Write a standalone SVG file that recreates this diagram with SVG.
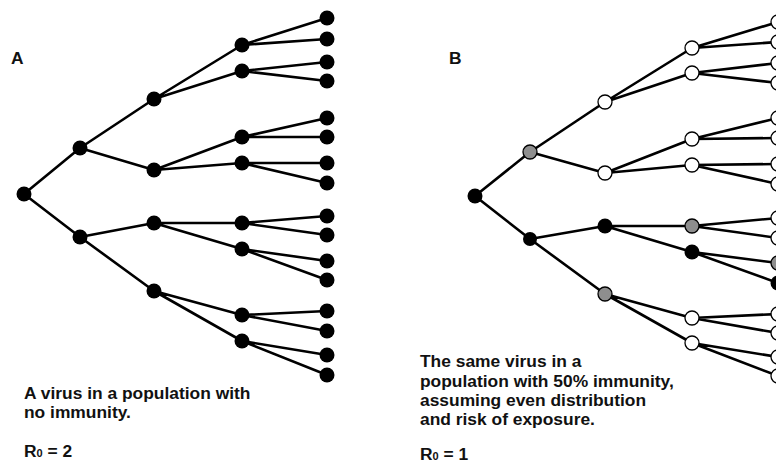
<svg xmlns="http://www.w3.org/2000/svg" width="776" height="465" viewBox="0 0 776 465">
<style>
.e{stroke:#000;stroke-width:2.6;stroke-linecap:round;fill:none}
.k{fill:#000}
.w{fill:#fff;stroke:#000;stroke-width:1.3}
.g{fill:#8e8e8e;stroke:#000;stroke-width:1.3}
.t{font-family:"Liberation Sans",Arial,Helvetica,sans-serif;font-weight:bold;font-size:17.4px;fill:#111}
.s{font-size:11px}
</style>
<rect width="776" height="465" fill="#fff"/>
<g id="connectors">
<path class="e" d="M24 194L80 148M24 194L80 237
M80 148L154 99M80 148L154 170M80 237L154 223M80 237L154 291
M154 99L242 45M154 99L242 71M154 170L242 137M154 170L242 163
M154 223L242 223M154 223L242 249M154 291L242 315M154 291L242 341
M242 45L327 18M242 45L327 39M242 71L327 62M242 71L327 81
M242 137L327 118M242 137L327 137M242 163L327 163M242 163L327 183
M242 223L327 216M242 223L327 235M242 249L327 261M242 249L327 280
M242 315L327 311M242 315L327 331M242 341L327 355M242 341L327 375"/>
<path class="e" d="M475 196L530 152M475 196L530 239
M530 152L605 102M530 152L605 173M530 239L605 226M530 239L605 294
M605 102L692 48M605 102L692 73M605 173L692 139M605 173L692 165
M605 226L692 226M605 226L692 252M605 294L692 318M605 294L692 343
M692 48L778 22M692 48L778 42M692 73L778 63M692 73L778 83
M692 139L778 118M692 139L778 138M692 165L778 164M692 165L778 184
M692 226L778 218M692 226L778 238M692 252L778 263M692 252L778 283
M692 318L778 314M692 318L778 333M692 343L778 357M692 343L778 376"/>
</g>
<g id="treeA">
<g id="a0"><circle class="k" cx="24" cy="194" r="7.5"/></g>
<g id="a1"><circle class="k" cx="80" cy="148" r="7.5"/></g>
<g id="a2"><circle class="k" cx="80" cy="237" r="7.5"/></g>
<g id="a11"><circle class="k" cx="154" cy="99" r="7.5"/></g>
<g id="a12"><circle class="k" cx="154" cy="170" r="7.5"/></g>
<g id="a21"><circle class="k" cx="154" cy="223" r="7.5"/></g>
<g id="a22"><circle class="k" cx="154" cy="291" r="7.5"/></g>
<g id="a111"><circle class="k" cx="242" cy="45" r="7.5"/></g>
<g id="a112"><circle class="k" cx="242" cy="71" r="7.5"/></g>
<g id="a121"><circle class="k" cx="242" cy="137" r="7.5"/></g>
<g id="a122"><circle class="k" cx="242" cy="163" r="7.5"/></g>
<g id="a211"><circle class="k" cx="242" cy="223" r="7.5"/></g>
<g id="a212"><circle class="k" cx="242" cy="249" r="7.5"/></g>
<g id="a221"><circle class="k" cx="242" cy="315" r="7.5"/></g>
<g id="a222"><circle class="k" cx="242" cy="341" r="7.5"/></g>
<g id="aL1"><circle class="k" cx="327" cy="18" r="7.5"/></g>
<g id="aL2"><circle class="k" cx="327" cy="39" r="7.5"/></g>
<g id="aL3"><circle class="k" cx="327" cy="62" r="7.5"/></g>
<g id="aL4"><circle class="k" cx="327" cy="81" r="7.5"/></g>
<g id="aL5"><circle class="k" cx="327" cy="118" r="7.5"/></g>
<g id="aL6"><circle class="k" cx="327" cy="137" r="7.5"/></g>
<g id="aL7"><circle class="k" cx="327" cy="163" r="7.5"/></g>
<g id="aL8"><circle class="k" cx="327" cy="183" r="7.5"/></g>
<g id="aL9"><circle class="k" cx="327" cy="216" r="7.5"/></g>
<g id="aL10"><circle class="k" cx="327" cy="235" r="7.5"/></g>
<g id="aL11"><circle class="k" cx="327" cy="261" r="7.5"/></g>
<g id="aL12"><circle class="k" cx="327" cy="280" r="7.5"/></g>
<g id="aL13"><circle class="k" cx="327" cy="311" r="7.5"/></g>
<g id="aL14"><circle class="k" cx="327" cy="331" r="7.5"/></g>
<g id="aL15"><circle class="k" cx="327" cy="355" r="7.5"/></g>
<g id="aL16"><circle class="k" cx="327" cy="375" r="7.5"/></g>
</g>
<g id="treeB">
<g id="b0"><circle class="k" cx="475" cy="196" r="7.5"/></g>
<g id="b1"><circle class="g" cx="530" cy="152" r="7"/></g>
<g id="b2"><circle class="k" cx="530" cy="239" r="7"/></g>
<g id="b11"><circle class="w" cx="605" cy="102" r="7"/></g>
<g id="b12"><circle class="w" cx="605" cy="173" r="7"/></g>
<g id="b21"><circle class="k" cx="605" cy="226" r="7.5"/></g>
<g id="b22"><circle class="g" cx="605" cy="294" r="7"/></g>
<g id="b111"><circle class="w" cx="692" cy="48" r="7"/></g>
<g id="b112"><circle class="w" cx="692" cy="73" r="7"/></g>
<g id="b121"><circle class="w" cx="692" cy="139" r="7"/></g>
<g id="b122"><circle class="w" cx="692" cy="165" r="7"/></g>
<g id="b211"><circle class="g" cx="692" cy="226" r="7"/></g>
<g id="b212"><circle class="k" cx="692" cy="252" r="7.5"/></g>
<g id="b221"><circle class="w" cx="692" cy="318" r="7"/></g>
<g id="b222"><circle class="w" cx="692" cy="343" r="7"/></g>
<g id="bL1"><circle class="w" cx="778" cy="22" r="7"/></g>
<g id="bL2"><circle class="w" cx="778" cy="42" r="7"/></g>
<g id="bL3"><circle class="w" cx="778" cy="63" r="7"/></g>
<g id="bL4"><circle class="w" cx="778" cy="83" r="7"/></g>
<g id="bL5"><circle class="w" cx="778" cy="118" r="7"/></g>
<g id="bL6"><circle class="w" cx="778" cy="138" r="7"/></g>
<g id="bL7"><circle class="w" cx="778" cy="164" r="7"/></g>
<g id="bL8"><circle class="w" cx="778" cy="184" r="7"/></g>
<g id="bL9"><circle class="w" cx="778" cy="218" r="7"/></g>
<g id="bL10"><circle class="w" cx="778" cy="238" r="7"/></g>
<g id="bL11"><circle class="g" cx="778" cy="263" r="7"/></g>
<g id="bL12"><circle class="k" cx="778" cy="283" r="7.5"/></g>
<g id="bL13"><circle class="w" cx="778" cy="314" r="7"/></g>
<g id="bL14"><circle class="w" cx="778" cy="333" r="7"/></g>
<g id="bL15"><circle class="w" cx="778" cy="357" r="7"/></g>
<g id="bL16"><circle class="w" cx="778" cy="376" r="7"/></g>
</g>
<g id="labels">
<text class="t" x="11" y="64">A</text>
<text class="t" x="449" y="64">B</text>
<text class="t" x="24" y="399">A virus in a population with</text>
<text class="t" x="24" y="418">no immunity.</text>
<text class="t" x="24" y="457">R<tspan class="s">0</tspan> = 2</text>
<text class="t" x="420" y="367">The same virus in a</text>
<text class="t" x="420" y="386.5">population with 50% immunity,</text>
<text class="t" x="420" y="406">assuming even distribution</text>
<text class="t" x="420" y="425">and risk of exposure.</text>
<text class="t" x="420" y="460">R<tspan class="s">0</tspan> = 1</text>
</g>
</svg>
